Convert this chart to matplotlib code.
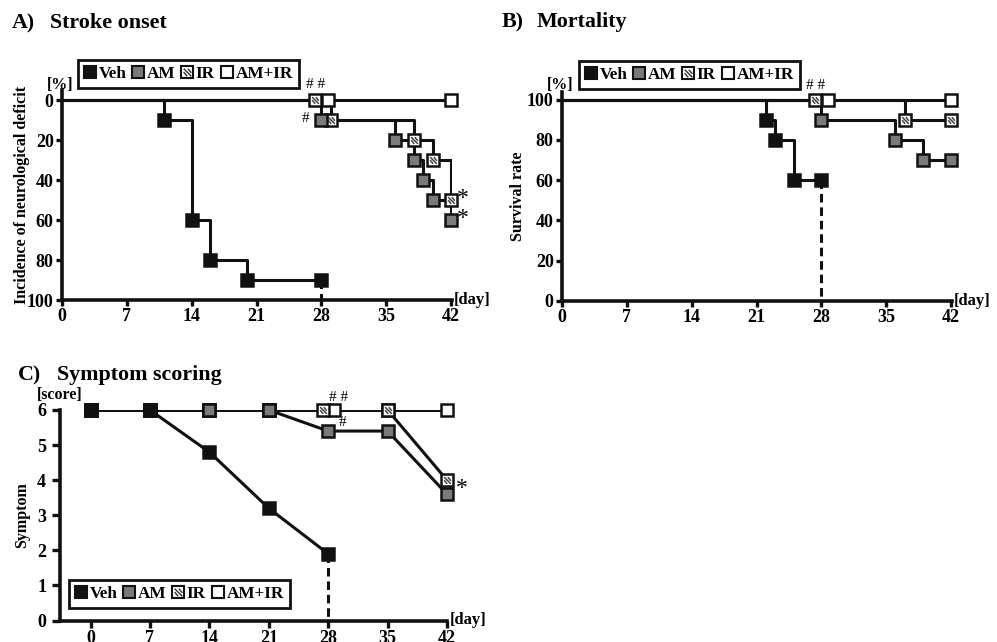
import matplotlib
matplotlib.use("Agg")
import matplotlib.pyplot as plt
from matplotlib.lines import Line2D
from matplotlib.path import Path
from matplotlib.legend_handler import HandlerTuple

plt.rcParams['font.family'] = ['Liberation Serif', 'DejaVu Serif']
plt.rcParams['font.weight'] = 'bold'

W, H = 997, 642

# ---- data ----
groups = ['Veh', 'AM', 'IR', 'AM+IR']

# A) stroke onset, incidence [%] (step curves)
veh_a_days = [0, 11, 14, 16, 20, 28]
veh_a_vals = [0, 10, 60, 80, 90, 90]
am_a_days = [0, 28, 36, 38, 39, 40, 42]
am_a_vals = [0, 10, 20, 30, 40, 50, 60]
ir_a_days = [0, 29, 38, 40, 42]
ir_a_vals = [0, 10, 20, 30, 50]
ir_a_mark_days = [27.3, 29, 38, 40, 42]
ir_a_mark_vals = [0, 10, 20, 30, 50]
amir_a_days = [0, 42]
amir_a_vals = [0, 0]
amir_a_mark_days = [28.7, 42]
amir_a_mark_vals = [0, 0]

# B) mortality, survival rate [%]
veh_b_days = [0, 22, 23, 25, 28]
veh_b_vals = [100, 90, 80, 60, 60]
am_b_days = [0, 28, 36, 39, 42]
am_b_vals = [100, 90, 80, 70, 70]
ir_b_days = [0, 37, 42]
ir_b_vals = [100, 90, 90]
ir_b_mark_days = [27.3, 37, 42]
ir_b_mark_vals = [100, 90, 90]
amir_b_days = [0, 42]
amir_b_vals = [100, 100]
amir_b_mark_days = [28.7, 42]
amir_b_mark_vals = [100, 100]

# C) symptom score
veh_c_days = [0, 7, 14, 21, 28]
veh_c_vals = [6, 6, 4.8, 3.2, 1.9]
am_c_days = [0, 7, 14, 21, 28, 35, 42]
am_c_vals = [6, 6, 6, 6, 5.4, 5.4, 3.6]
ir_c_days = [0, 7, 14, 21, 27.4, 35, 42]
ir_c_vals = [6, 6, 6, 6, 6, 6, 4.0]
amir_c_days = [0, 7, 14, 21, 28.7, 35, 42]
amir_c_vals = [6, 6, 6, 6, 6, 6, 6]

day_ticks = [0, 7, 14, 21, 28, 35, 42]

INK = '#111111'
GREY = '#7a7a7a'
LW = 2.2
MEW = 1.8
DASH = (0, (2.8, 1.6))
hatch_path = Path([(-1, 1), (1, -1), (-1, 0.1), (-0.1, -1), (0.1, 1), (1, -0.1)],
                  [Path.MOVETO, Path.LINETO, Path.MOVETO, Path.LINETO, Path.MOVETO, Path.LINETO])


def px(x, y):
    return x / W, 1 - y / H


def marks(ax, x, y, kind, ms=8, z=5):
    if kind == 'Veh':
        ax.plot(x, y, 's', ms=9, mfc=INK, mec=INK, mew=MEW, zorder=z, clip_on=False)
    elif kind == 'AM':
        ax.plot(x, y, 's', ms=ms, mfc=GREY, mec=INK, mew=MEW, zorder=z, clip_on=False)
    elif kind == 'IR':
        ax.plot(x, y, 's', ms=ms, mfc='white', mec=INK, mew=MEW, zorder=z, clip_on=False)
        ax.plot(x, y, ls='none', marker=hatch_path, ms=ms * 0.6, mfc='none', mec='#444444',
                mew=1.1, zorder=z + 0.1, clip_on=False)
    else:
        ax.plot(x, y, 's', ms=ms, mfc='white', mec=INK, mew=MEW, zorder=z, clip_on=False)


def style_axes(ax):
    for s in ['top', 'right']:
        ax.spines[s].set_visible(False)
    for s in ['left', 'bottom']:
        ax.spines[s].set_linewidth(2.6)
        ax.spines[s].set_color(INK)
    ax.tick_params(width=2.4, length=4, labelsize=13, color=INK, pad=2)
    for lab in ax.get_xticklabels() + ax.get_yticklabels():
        lab.set_fontweight('bold')


def legend_handles():
    kw = dict(ls='none', marker='s', ms=8.6, mec=INK, mew=1.5)
    h_veh = Line2D([], [], mfc=INK, **kw)
    h_am = Line2D([], [], mfc=GREY, **kw)
    h_ir1 = Line2D([], [], mfc='white', **kw)
    h_ir2 = Line2D([], [], ls='none', marker=hatch_path, ms=5.5, mfc='none', mec='#333333', mew=1.0)
    h_amir = Line2D([], [], mfc='white', **kw)
    return [h_veh, h_am, (h_ir1, h_ir2), h_amir]


def add_legend(fig, x, y):
    leg = fig.legend(legend_handles(), groups, loc='upper left', bbox_to_anchor=px(x, y),
                     borderaxespad=0, ncol=4, handlelength=0.7, handletextpad=0.15,
                     columnspacing=0.35, borderpad=0.35, fancybox=False, framealpha=1,
                     edgecolor=INK, prop={'weight': 'bold', 'size': 12.3},
                     handler_map={tuple: HandlerTuple(ndivide=1, pad=0)})
    leg.get_frame().set_linewidth(2.0)
    return leg


def title(fig, x1, x2, y, tag, name):
    fig.text(*px(x1, y), tag, fontsize=15.8, fontweight='bold', va='baseline')
    fig.text(*px(x2, y), name, fontsize=15.8, fontweight='bold', va='baseline')


fig = plt.figure(figsize=(W / 100, H / 100), dpi=100)

# ---------------- A) Stroke onset ----------------
axA = fig.add_axes([62 / W, 342 / H, 390 / W, 210 / H])
axA.step(amir_a_days, amir_a_vals, where='post', color=INK, lw=LW, zorder=2)
axA.step(ir_a_days, ir_a_vals, where='post', color=INK, lw=LW, zorder=2)
axA.step(am_a_days, am_a_vals, where='post', color=INK, lw=LW, zorder=2)
axA.step(veh_a_days, veh_a_vals, where='post', color=INK, lw=LW, zorder=2)
marks(axA, amir_a_mark_days, amir_a_mark_vals, 'AM+IR', z=4)
marks(axA, ir_a_mark_days, ir_a_mark_vals, 'IR', z=5)
marks(axA, am_a_days[1:], am_a_vals[1:], 'AM', z=6)
marks(axA, veh_a_days[1:], veh_a_vals[1:], 'Veh', z=7)
axA.plot([veh_a_days[-1]] * 2, [veh_a_vals[-1], 100], ls=DASH, color=INK, lw=LW, zorder=1)
axA.set_xlim(0, 42.1)
axA.set_ylim(100, -5)
axA.set_xticks(day_ticks)
axA.set_yticks([0, 20, 40, 60, 80, 100])
style_axes(axA)
axA.set_ylabel('Incidence of neurological deficit', fontsize=11.5, fontweight='bold')
axA.yaxis.set_label_coords(-0.082, 0.5)
axA.text(27.4, -4.5, '# #', fontsize=11, fontweight='normal', ha='center', va='bottom')
axA.text(26.3, 9, '#', fontsize=11, fontweight='normal', ha='center', va='center')
axA.text(43.3, 49, '*', fontsize=17, fontweight='normal', ha='center', va='center')
axA.text(43.3, 59, '*', fontsize=17, fontweight='normal', ha='center', va='center')
title(fig, 12, 50, 28, 'A)', 'Stroke onset')
fig.text(*px(60, 85), '[%]', fontsize=11.5, fontweight='bold', ha='center', va='center')
fig.text(*px(454, 300), '[day]', fontsize=12, fontweight='bold', ha='left', va='center')
add_legend(fig, 78, 60)

# ---------------- B) Mortality ----------------
axB = fig.add_axes([562 / W, 341.3 / H, 390 / W, 209 / H])
axB.step(amir_b_days, amir_b_vals, where='post', color=INK, lw=LW, zorder=2)
axB.step(ir_b_days, ir_b_vals, where='post', color=INK, lw=LW, zorder=2)
axB.step(am_b_days, am_b_vals, where='post', color=INK, lw=LW, zorder=2)
axB.step(veh_b_days, veh_b_vals, where='post', color=INK, lw=LW, zorder=2)
marks(axB, amir_b_mark_days, amir_b_mark_vals, 'AM+IR', z=4)
marks(axB, ir_b_mark_days, ir_b_mark_vals, 'IR', z=5)
marks(axB, am_b_days[1:], am_b_vals[1:], 'AM', z=6)
marks(axB, veh_b_days[1:], veh_b_vals[1:], 'Veh', z=7)
axB.plot([veh_b_days[-1]] * 2, [veh_b_vals[-1], 0], ls=DASH, color=INK, lw=LW, zorder=1)
axB.set_xlim(0, 42.1)
axB.set_ylim(0, 104)
axB.set_xticks(day_ticks)
axB.set_yticks([0, 20, 40, 60, 80, 100])
style_axes(axB)
axB.set_ylabel('Survival rate', fontsize=11.5, fontweight='bold')
axB.yaxis.set_label_coords(-0.092, 0.5)
axB.text(27.4, 104, '# #', fontsize=11, fontweight='normal', ha='center', va='bottom')
title(fig, 502, 537, 27, 'B)', 'Mortality')
fig.text(*px(560, 85), '[%]', fontsize=11.5, fontweight='bold', ha='center', va='center')
fig.text(*px(954, 301), '[day]', fontsize=12, fontweight='bold', ha='left', va='center')
add_legend(fig, 579, 61)

# ---------------- C) Symptom scoring ----------------
axC = fig.add_axes([60 / W, 21.5 / H, 387 / W, 210.5 / H])
axC.plot(amir_c_days, amir_c_vals, color=INK, lw=LW, zorder=2)
axC.plot(ir_c_days, ir_c_vals, color=INK, lw=LW, zorder=2)
axC.plot(am_c_days, am_c_vals, color=INK, lw=LW, zorder=2)
axC.plot(veh_c_days, veh_c_vals, color=INK, lw=LW, zorder=2)
marks(axC, amir_c_days, amir_c_vals, 'AM+IR', z=4)
marks(axC, ir_c_days, ir_c_vals, 'IR', z=5)
marks(axC, am_c_days, am_c_vals, 'AM', z=6)
marks(axC, veh_c_days, veh_c_vals, 'Veh', z=7)
axC.plot([veh_c_days[-1]] * 2, [veh_c_vals[-1], 0], ls=DASH, color=INK, lw=LW, zorder=1)
axC.set_xlim(-3.6, 42)
axC.set_ylim(0, 6)
axC.set_xticks(day_ticks)
axC.set_yticks([0, 1, 2, 3, 4, 5, 6])
style_axes(axC)
axC.tick_params(axis='y', length=6, pad=4)
axC.tick_params(axis='x', length=5)
axC.set_ylabel('Symptom', fontsize=11.5, fontweight='bold')
axC.yaxis.set_label_coords(-0.078, 0.5)
axC.text(29.2, 6.18, '# #', fontsize=11, fontweight='normal', ha='center', va='bottom')
axC.text(29.7, 5.63, '#', fontsize=11, fontweight='normal', ha='center', va='center')
axC.text(43.8, 3.75, '*', fontsize=17, fontweight='normal', ha='center', va='center')
title(fig, 18, 57, 380, 'C)', 'Symptom scoring')
fig.text(*px(60, 395), '[score]', fontsize=11.5, fontweight='bold', ha='center', va='center')
fig.text(*px(450, 620), '[day]', fontsize=12, fontweight='bold', ha='left', va='center')
add_legend(fig, 69, 580)

fig.savefig('out.png', dpi=100)
